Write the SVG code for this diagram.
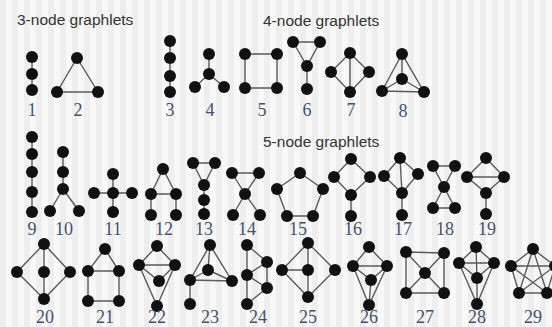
<svg xmlns="http://www.w3.org/2000/svg" width="552" height="327" viewBox="0 0 552 327">
<defs>
<pattern id="stripes" x="0" y="0" width="12" height="12" patternUnits="userSpaceOnUse">
<rect width="12" height="12" fill="#f8f8f8"/>
<rect width="6" height="12" fill="#eeeeee"/>
</pattern>
</defs>
<style>
.e{stroke:#5a5a5a;stroke-width:1.4;fill:none}
.n{fill:#111}
.t{font-family:"Liberation Sans",Arial,sans-serif;font-size:15.5px;fill:#333}
.l{font-family:"Liberation Serif","Times New Roman",serif;font-size:18px;fill:#44516e;text-anchor:middle}
</style>
<rect width="552" height="327" fill="url(#stripes)"/>
<text class="t" x="17" y="25">3-node graphlets</text>
<text class="t" x="263" y="26">4-node graphlets</text>
<text class="t" x="263" y="147">5-node graphlets</text>
<g id="connectors" class="e">
<path d="M32 57V90"/>
<path d="M77 58L57 92L98 92Z"/>
<path d="M170 41V92"/>
<path d="M209 54V74M209 74L195 87M209 74L224 87"/>
<path d="M245 54H277V88H245Z"/>
<path d="M293 42H320L307 66ZM307 66V89"/>
<path d="M350 53L331 72L350 92L369 72ZM350 53V92"/>
<path d="M402 54L382 91L424 92ZM402 54V79M402 79L382 91M402 79L424 92"/>
<path d="M32 137V212"/>
<path d="M63 152V189M63 189L50 211M63 189L79 211"/>
<path d="M113 174V212M94 193H132"/>
<path d="M163 169L151 194H176ZM151 194V215M176 194V215"/>
<path d="M193 163H215L204 185ZM204 185V214"/>
<path d="M232 173H259L245 194ZM245 194L233 215M245 194L260 215"/>
<path d="M300 173L323 189L313 216H287L277 189Z"/>
<path d="M351 159L334 177L351 195L370 177ZM351 195V216"/>
<path d="M400 158L384 176L402 193L418 174ZM400 158L402 193M402 193V215"/>
<path d="M433 166H455L444 187ZM444 187L433 208H455Z"/>
<path d="M486 158L467 177L486 193L504 177ZM467 177H504M486 193V214"/>
<path d="M44 244L17 272L44 299L70 272ZM44 244V299"/>
<path d="M105 249L88 271H119ZM88 271V301H119V271"/>
<path d="M157 246L139 265H175ZM139 265L159 281L175 265M139 265L157 306L175 265"/>
<path d="M210 245L190 280L232 281ZM210 245L208 270M208 270L190 280M208 270L232 281M190 280V304"/>
<path d="M247 245V304M247 245L267 262L247 275L267 288L247 304M267 262V288"/>
<path d="M308 243L282 270L308 297L335 270ZM308 243V297M282 270H308"/>
<path d="M369 247L353 266H387ZM353 266L371 280L387 266M353 266L369 305L387 266M371 280L369 305"/>
<path d="M406 252L444 253L444 293L406 293ZM406 252L444 293M444 253L406 293"/>
<path d="M476 247L459 263H494ZM476 247L477 278M459 263L477 278L494 263M459 263L477 304L494 263M477 278V304"/>
<path d="M533 249L555 266L547 293L519 293L511 266ZM533 249L519 293M533 249L547 293M511 266L555 266M511 266L547 293M555 266L519 293"/>
</g>
<g id="g1" class="n"><circle cx="32" cy="57" r="6"/><circle cx="32" cy="74" r="6"/><circle cx="32" cy="90" r="6"/></g>
<g id="g2" class="n"><circle cx="77" cy="58" r="6"/><circle cx="57" cy="92" r="6"/><circle cx="98" cy="92" r="6"/></g>
<g id="g3" class="n"><circle cx="170" cy="41" r="6"/><circle cx="170" cy="58" r="6"/><circle cx="170" cy="76" r="6"/><circle cx="170" cy="92" r="6"/></g>
<g id="g4" class="n"><circle cx="209" cy="54" r="6"/><circle cx="209" cy="74" r="6"/><circle cx="195" cy="87" r="6"/><circle cx="224" cy="87" r="6"/></g>
<g id="g5" class="n"><circle cx="245" cy="54" r="6"/><circle cx="277" cy="54" r="6"/><circle cx="277" cy="88" r="6"/><circle cx="245" cy="88" r="6"/></g>
<g id="g6" class="n"><circle cx="293" cy="42" r="6"/><circle cx="320" cy="42" r="6"/><circle cx="307" cy="66" r="6"/><circle cx="307" cy="89" r="6"/></g>
<g id="g7" class="n"><circle cx="350" cy="53" r="6"/><circle cx="331" cy="72" r="6"/><circle cx="369" cy="72" r="6"/><circle cx="350" cy="92" r="6"/></g>
<g id="g8" class="n"><circle cx="402" cy="54" r="6"/><circle cx="402" cy="79" r="6"/><circle cx="382" cy="91" r="6"/><circle cx="424" cy="92" r="6"/></g>
<g id="g9" class="n"><circle cx="32" cy="137" r="6"/><circle cx="32" cy="154" r="6"/><circle cx="32" cy="172" r="6"/><circle cx="32" cy="192" r="6"/><circle cx="32" cy="212" r="6"/></g>
<g id="g10" class="n"><circle cx="63" cy="152" r="6"/><circle cx="63" cy="172" r="6"/><circle cx="63" cy="189" r="6"/><circle cx="50" cy="211" r="6"/><circle cx="79" cy="211" r="6"/></g>
<g id="g11" class="n"><circle cx="113" cy="193" r="6"/><circle cx="113" cy="174" r="6"/><circle cx="113" cy="212" r="6"/><circle cx="94" cy="193" r="6"/><circle cx="132" cy="193" r="6"/></g>
<g id="g12" class="n"><circle cx="163" cy="169" r="6"/><circle cx="151" cy="194" r="6"/><circle cx="176" cy="194" r="6"/><circle cx="151" cy="215" r="6"/><circle cx="176" cy="215" r="6"/></g>
<g id="g13" class="n"><circle cx="193" cy="163" r="6"/><circle cx="215" cy="163" r="6"/><circle cx="204" cy="185" r="6"/><circle cx="204" cy="200" r="6"/><circle cx="204" cy="214" r="6"/></g>
<g id="g14" class="n"><circle cx="232" cy="173" r="6"/><circle cx="259" cy="173" r="6"/><circle cx="245" cy="194" r="6"/><circle cx="233" cy="215" r="6"/><circle cx="260" cy="215" r="6"/></g>
<g id="g15" class="n"><circle cx="300" cy="173" r="6"/><circle cx="277" cy="189" r="6"/><circle cx="323" cy="189" r="6"/><circle cx="287" cy="216" r="6"/><circle cx="313" cy="216" r="6"/></g>
<g id="g16" class="n"><circle cx="351" cy="159" r="6"/><circle cx="334" cy="177" r="6"/><circle cx="370" cy="177" r="6"/><circle cx="351" cy="195" r="6"/><circle cx="351" cy="216" r="6"/></g>
<g id="g17" class="n"><circle cx="400" cy="158" r="6"/><circle cx="384" cy="176" r="6"/><circle cx="418" cy="174" r="6"/><circle cx="402" cy="193" r="6"/><circle cx="402" cy="215" r="6"/></g>
<g id="g18" class="n"><circle cx="433" cy="166" r="6"/><circle cx="455" cy="166" r="6"/><circle cx="444" cy="187" r="6"/><circle cx="433" cy="208" r="6"/><circle cx="455" cy="208" r="6"/></g>
<g id="g19" class="n"><circle cx="486" cy="158" r="6"/><circle cx="467" cy="177" r="6"/><circle cx="504" cy="177" r="6"/><circle cx="486" cy="193" r="6"/><circle cx="486" cy="214" r="6"/></g>
<g id="g20" class="n"><circle cx="44" cy="244" r="6"/><circle cx="17" cy="272" r="6"/><circle cx="44" cy="272" r="6"/><circle cx="70" cy="272" r="6"/><circle cx="44" cy="299" r="6"/></g>
<g id="g21" class="n"><circle cx="105" cy="249" r="6"/><circle cx="88" cy="271" r="6"/><circle cx="119" cy="271" r="6"/><circle cx="88" cy="301" r="6"/><circle cx="119" cy="301" r="6"/></g>
<g id="g22" class="n"><circle cx="157" cy="246" r="6"/><circle cx="139" cy="265" r="6"/><circle cx="175" cy="265" r="6"/><circle cx="159" cy="281" r="6"/><circle cx="157" cy="306" r="6"/></g>
<g id="g23" class="n"><circle cx="210" cy="245" r="6"/><circle cx="208" cy="270" r="6"/><circle cx="190" cy="280" r="6"/><circle cx="232" cy="281" r="6"/><circle cx="190" cy="304" r="6"/></g>
<g id="g24" class="n"><circle cx="247" cy="245" r="6"/><circle cx="267" cy="262" r="6"/><circle cx="247" cy="275" r="6"/><circle cx="267" cy="288" r="6"/><circle cx="247" cy="304" r="6"/></g>
<g id="g25" class="n"><circle cx="308" cy="243" r="6"/><circle cx="282" cy="270" r="6"/><circle cx="308" cy="270" r="6"/><circle cx="335" cy="270" r="6"/><circle cx="308" cy="297" r="6"/></g>
<g id="g26" class="n"><circle cx="369" cy="247" r="6"/><circle cx="353" cy="266" r="6"/><circle cx="387" cy="266" r="6"/><circle cx="371" cy="280" r="6"/><circle cx="369" cy="305" r="6"/></g>
<g id="g27" class="n"><circle cx="406" cy="252" r="6"/><circle cx="444" cy="253" r="6"/><circle cx="425" cy="273" r="6"/><circle cx="406" cy="293" r="6"/><circle cx="444" cy="293" r="6"/></g>
<g id="g28" class="n"><circle cx="476" cy="247" r="6"/><circle cx="459" cy="263" r="6"/><circle cx="494" cy="263" r="6"/><circle cx="477" cy="278" r="6"/><circle cx="477" cy="304" r="6"/></g>
<g id="g29" class="n"><circle cx="533" cy="249" r="6"/><circle cx="511" cy="266" r="6"/><circle cx="555" cy="266" r="6"/><circle cx="519" cy="293" r="6"/><circle cx="547" cy="293" r="6"/></g>
<g id="labels" class="l">
<text x="32" y="116">1</text><text x="78" y="116">2</text><text x="170" y="116">3</text><text x="210" y="116">4</text><text x="262" y="116">5</text><text x="307" y="116">6</text><text x="351" y="116">7</text><text x="403" y="117">8</text>
<text x="32" y="235">9</text><text x="64" y="235">10</text><text x="113" y="235">11</text><text x="164" y="235">12</text><text x="204" y="235">13</text><text x="247" y="235">14</text><text x="298" y="235">15</text><text x="353" y="235">16</text><text x="403" y="235">17</text><text x="445" y="235">18</text><text x="487" y="235">19</text>
<text x="45" y="323">20</text><text x="105" y="323">21</text><text x="157" y="323">22</text><text x="210" y="323">23</text><text x="258" y="323">24</text><text x="308" y="323">25</text><text x="369" y="323">26</text><text x="425" y="323">27</text><text x="477" y="323">28</text><text x="533" y="323">29</text>
</g>
</svg>
